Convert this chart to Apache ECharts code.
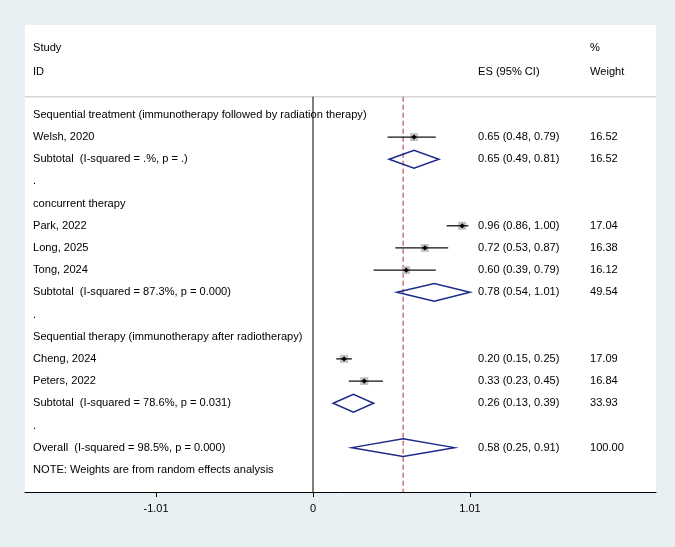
<!DOCTYPE html>
<html>
<head>
<meta charset="utf-8">
<script src="https://cdn.jsdelivr.net/npm/echarts@6/dist/echarts.min.js"></script>
<style>
html,body{margin:0;padding:0;background:#e9f0f3;}
#chart{width:675px;height:547px;}
</style>
</head>
<body>
<div id="chart"></div>
<script>
// ---- data ----
const labels = [
  "Sequential treatment (immunotherapy followed by radiation therapy)",
  "Welsh, 2020",
  "Subtotal  (I-squared = .%, p = .)",
  ".",
  "concurrent therapy",
  "Park, 2022",
  "Long, 2025",
  "Tong, 2024",
  "Subtotal  (I-squared = 87.3%, p = 0.000)",
  ".",
  "Sequential therapy (immunotherapy after radiotherapy)",
  "Cheng, 2024",
  "Peters, 2022",
  "Subtotal  (I-squared = 78.6%, p = 0.031)",
  ".",
  "Overall  (I-squared = 98.5%, p = 0.000)",
  "NOTE: Weights are from random effects analysis"
];
const rowKind = ["group","study","pooled","blank","group","study","study","study","pooled","blank","group","study","study","pooled","blank","pooled","note"];
const es     = [null,0.65,0.65,null,null,0.96,0.72,0.60,0.78,null,null,0.20,0.33,0.26,null,0.58,null];
const ciLow  = [null,0.48,0.49,null,null,0.86,0.53,0.39,0.54,null,null,0.15,0.23,0.13,null,0.25,null];
const ciHigh = [null,0.79,0.81,null,null,1.00,0.87,0.79,1.01,null,null,0.25,0.45,0.39,null,0.91,null];
const weight = [null,16.52,16.52,null,null,17.04,16.38,16.12,49.54,null,null,17.09,16.84,33.93,null,100.00,null];
const headerLeft = ["Study","ID"];
const headerES = ["","ES (95% CI)"];
const headerW = ["%","Weight"];
const tickValues = [-1.01, 0, 1.01];
const overallIndex = 15;

// ---- chart ----
const FONT = '"Liberation Sans", Arial, sans-serif';
const FS = 11.1;
const COL_LEFT = 33, COL_ES = 478, COL_W = 590;
const HEADER_ROWS = [-3.02, -1.94];
const LINE_TOP = -0.82;
const Y_MIN = -4.05, Y_MAX = 17;

const chart = echarts.init(document.getElementById('chart'));

const rows = labels.map((l, i) => [i]);

function txt(x, y, s) {
  return {type:'text', style:{text:s, x:x, y:y, fill:'#000', font: FS + 'px ' + FONT, verticalAlign:'middle', align:'left'}};
}

const option = {
  backgroundColor: '#e9f0f3',
  animation: false,
  grid: {left:25, right:19, top:25, bottom:55, show:true, backgroundColor:'#ffffff', borderWidth:0},
  xAxis: {
    type:'value', min:-1.853, max:2.207,
    axisLine:{show:true, onZero:false, lineStyle:{color:'#000', width:1}},
    axisTick:{show:true, length:5, customValues: tickValues, lineStyle:{color:'#000'}},
    axisLabel:{show:true, customValues: tickValues, color:'#000', fontSize:11, fontFamily:FONT, margin:11,
      formatter: v => String(v)},
    splitLine:{show:false}
  },
  yAxis: {type:'value', min:Y_MIN, max:Y_MAX, inverse:true, show:false},
  series: [
    // reference lines and header separator
    {
      type:'custom', silent:true, data:[[0]], z:1,
      renderItem: function(params, api) {
        const cs = params.coordSys;
        const top = api.coord([0, LINE_TOP])[1];
        const bot = api.coord([0, Y_MAX])[1];
        const x0 = api.coord([0, 0])[0];
        const xo = api.coord([es[overallIndex], 0])[0];
        return {type:'group', children:[
          {type:'line', shape:{x1:cs.x, y1:top, x2:cs.x+cs.width, y2:top}, style:{stroke:'#d6d6d6', lineWidth:1.5}},
          {type:'line', shape:{x1:x0, y1:top, x2:x0, y2:bot}, style:{stroke:'#000', lineWidth:1}},
          {type:'line', shape:{x1:xo, y1:top, x2:xo, y2:bot}, style:{stroke:'#c4505a', lineWidth:1.2, lineDash:[5,3]}}
        ]};
      }
    },
    // studies
    {
      type:'custom', silent:true, data:rows, z:3,
      renderItem: function(params, api) {
        const i = api.value(0);
        if (rowKind[i] !== 'study') return null;
        const pLo = api.coord([ciLow[i], i]);
        const pHi = api.coord([ciHigh[i], i]);
        const p = api.coord([es[i], i]);
        const s = 1.95 * Math.sqrt(weight[i]);
        const d = 2.6;
        return {type:'group', children:[
          {type:'rect', shape:{x:p[0]-s/2, y:p[1]-s/2, width:s, height:s}, style:{fill:'#c2c2c2'}},
          {type:'line', shape:{x1:pLo[0], y1:pLo[1], x2:pHi[0], y2:pHi[1]}, style:{stroke:'#111', lineWidth:1.3}},
          {type:'polygon', shape:{points:[[p[0]-d,p[1]],[p[0],p[1]-d],[p[0]+d,p[1]],[p[0],p[1]+d]]}, style:{fill:'#000'}}
        ]};
      }
    },
    // pooled diamonds
    {
      type:'custom', silent:true, data:rows, z:2,
      renderItem: function(params, api) {
        const i = api.value(0);
        if (rowKind[i] !== 'pooled') return null;
        const pLo = api.coord([ciLow[i], i]);
        const pHi = api.coord([ciHigh[i], i]);
        const pt = api.coord([es[i], i - 0.4]);
        const pb = api.coord([es[i], i + 0.4]);
        return {type:'polygon', shape:{points:[[pLo[0],pLo[1]],[pt[0],pt[1]],[pHi[0],pHi[1]],[pb[0],pb[1]]]},
          style:{fill:'none', stroke:'#1d2a8a', lineWidth:1.5}};
      }
    },
    // row texts
    {
      type:'custom', silent:true, data:rows, z:4,
      renderItem: function(params, api) {
        const i = api.value(0);
        const y = api.coord([0, i])[1];
        const ch = [txt(COL_LEFT, y, labels[i])];
        if (es[i] !== null) {
          ch.push(txt(COL_ES, y, es[i].toFixed(2) + ' (' + ciLow[i].toFixed(2) + ', ' + ciHigh[i].toFixed(2) + ')'));
          ch.push(txt(COL_W, y, weight[i].toFixed(2)));
        }
        return {type:'group', children:ch};
      }
    },
    // header texts
    {
      type:'custom', silent:true, data:[[0],[1]], z:4,
      renderItem: function(params, api) {
        const k = api.value(0);
        const y = api.coord([0, HEADER_ROWS[k]])[1];
        return {type:'group', children:[
          txt(COL_LEFT, y, headerLeft[k]),
          txt(COL_ES, y, headerES[k]),
          txt(COL_W, y, headerW[k])
        ]};
      }
    }
  ]
};
chart.setOption(option);
</script>
</body>
</html>
